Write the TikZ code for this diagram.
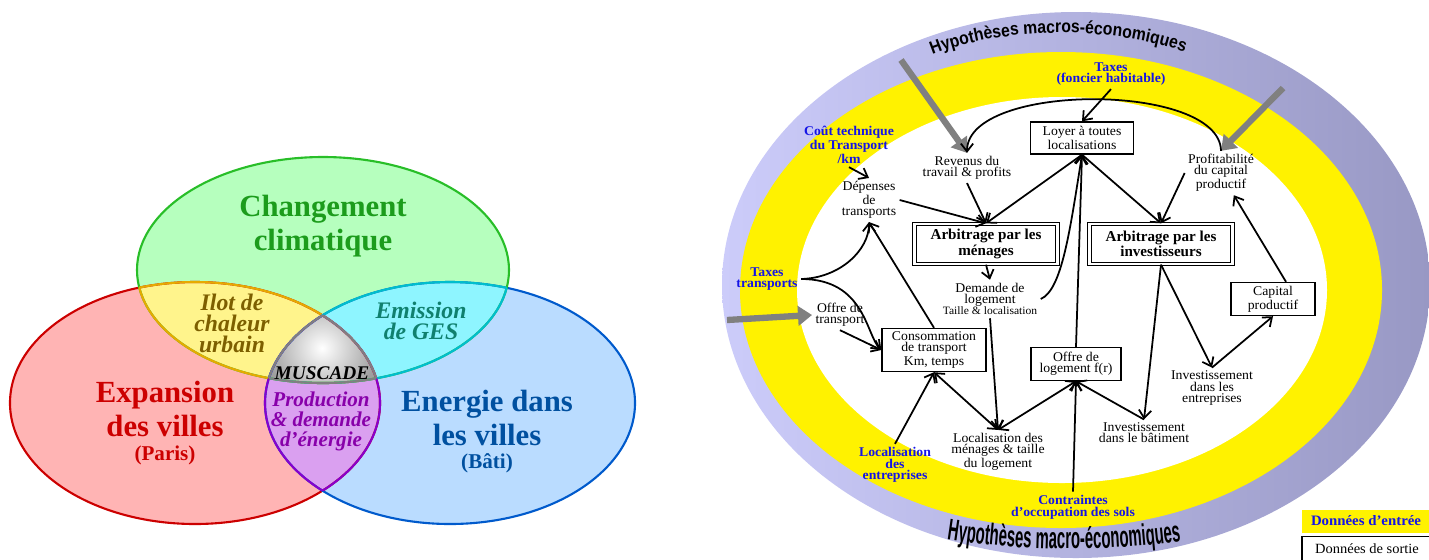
\documentclass[tikz,border=0pt]{standalone}
\usepackage{fontspec}
\setmainfont{Liberation Serif}
\newfontfamily\diagfont[FakeStretch=1.03]{Liberation Serif}
\newfontfamily\hypsmall[FakeStretch=0.88]{Liberation Sans}
\newfontfamily\hypbig[FakeStretch=0.5]{Liberation Sans}
\usetikzlibrary{arrows.meta,decorations.text}

\definecolor{redfill}{RGB}{255,180,180}
\definecolor{redline}{RGB}{204,0,0}
\definecolor{greenfill}{RGB}{182,255,190}
\definecolor{greenline}{RGB}{40,190,40}
\definecolor{greentext}{RGB}{28,156,28}
\definecolor{bluefill}{RGB}{186,220,255}
\definecolor{blueline}{RGB}{0,90,204}
\definecolor{bluetext}{RGB}{0,80,160}
\definecolor{yelfill}{RGB}{255,244,140}
\definecolor{yelline}{RGB}{230,170,0}
\definecolor{yeltext}{RGB}{125,95,0}
\definecolor{cyanfill}{RGB}{142,245,255}
\definecolor{cyanline}{RGB}{0,190,205}
\definecolor{cyantext}{RGB}{16,128,110}
\definecolor{purpfill}{RGB}{218,160,240}
\definecolor{purpline}{RGB}{136,0,204}
\definecolor{purptext}{RGB}{136,0,170}
\definecolor{ringleft}{RGB}{204,204,250}
\definecolor{ringright}{RGB}{152,152,196}
\definecolor{inblue}{RGB}{20,20,230}
\definecolor{grayarrow}{RGB}{128,128,128}

% the three sets of the left diagram
\newcommand{\ellred}{(195,403) ellipse [x radius=185, y radius=121]}
\newcommand{\ellblue}{(450,403) ellipse [x radius=185, y radius=121]}
\newcommand{\ellgreen}{(323,270) ellipse [x radius=186, y radius=113]}

\tikzset{
  vtitle/.style={align=center, inner sep=0pt, font=\bfseries\fontsize{17.5}{19}\selectfont},
  vsmall/.style={align=center, inner sep=0pt, font=\bfseries\fontsize{12}{12}\selectfont},
  vpair/.style={align=center, inner sep=0pt, font=\bfseries\itshape\fontsize{13.5}{12}\selectfont},
  txt/.style={align=center, inner sep=1.5pt, font=\diagfont\fontsize{7.6}{6.3}\selectfont},
  inp/.style={txt, text=inblue, font=\diagfont\bfseries\fontsize{7.6}{6.6}\selectfont},
  box/.style={txt, draw, fill=white, line width=0.8pt},
  arbbox/.style={box, double, line width=0.8pt, double distance=1.2pt,
    font=\bfseries\fontsize{8.6}{6.7}\selectfont},
  garr/.style={-{Triangle[length=8pt,width=11pt]}, line width=3.6pt, draw=grayarrow},
}

\begin{document}
\begin{tikzpicture}[x=0.02cm, y=-0.02cm, >={Straight Barb[length=4.5pt,width=7pt]}, line width=1pt]
\useasboundingbox (0,0) rectangle (1429,559);

% ---- left: Venn diagram
\fill[redfill] \ellred;
\fill[bluefill] \ellblue;
\fill[greenfill] \ellgreen;
\begin{scope} \clip \ellred; \fill[yelfill] \ellgreen; \fill[purpfill] \ellblue; \end{scope}
\begin{scope} \clip \ellgreen; \fill[cyanfill] \ellblue; \end{scope}
\begin{scope}
  \clip \ellred; \clip \ellblue; \clip \ellgreen;
  \fill[gray!75] (322,350) circle [radius=80];
  \shade[inner color=white, outer color=gray!75] (322,348) circle [radius=55];
\end{scope}

\begin{scope}[line width=1.2pt]
  \draw[redline] \ellred;
  \draw[blueline] \ellblue;
  \draw[greenline] \ellgreen;
  \begin{scope} \clip \ellgreen; \draw[yelline] \ellred; \end{scope}
  \begin{scope} \clip \ellred; \draw[yelline] \ellgreen; \end{scope}
  \begin{scope} \clip \ellblue; \draw[cyanline] \ellgreen; \end{scope}
  \begin{scope} \clip \ellgreen; \draw[cyanline] \ellblue; \end{scope}
  \begin{scope} \clip \ellblue; \draw[purpline] \ellred; \end{scope}
  \begin{scope} \clip \ellred; \draw[purpline] \ellblue; \end{scope}
  \begin{scope} \clip \ellgreen; \clip \ellblue; \draw[gray] \ellred; \end{scope}
  \begin{scope} \clip \ellgreen; \clip \ellred; \draw[gray] \ellblue; \end{scope}
  \begin{scope} \clip \ellred; \clip \ellblue; \draw[gray] \ellgreen; \end{scope}
\end{scope}

\node[vtitle, text=greentext] (clim) at (323,226) {Changement\\climatique};
\node[vpair, text=yeltext] (ilot) at (232,323) {Ilot de\\chaleur\\urbain};
\node[vpair, text=cyantext] (ges) at (421,321) {Emission\\de GES};
\node[vpair, text=purptext, font=\bfseries\itshape\fontsize{12}{11.4}\selectfont] (prod) at (321,421) {Production\\\& demande\\d'énergie};
\node[inner sep=0pt, font=\bfseries\itshape\fontsize{11}{11}\selectfont] (musc) at (322,373) {MUSCADE};
\node[vtitle, text=redline] (expa) at (165,409) {Expansion\\des villes};
\node[vsmall, text=redline] (paris) at (165,455) {(Paris)};
\node[vtitle, text=bluetext] (ener) at (487,418) {Energie dans\\les villes};
\node[vsmall, text=bluetext] (bati) at (487,463) {(Bâti)};

% ---- right: rings
\shade[left color=ringleft, right color=ringright] (1076,285) ellipse [x radius=354, y radius=273];
\fill[yellow] (1061,290) ellipse [x radius=321, y radius=238];
\fill[white] (1062,290) ellipse [x radius=265, y radius=193];

\path[decorate, decoration={text along path, text align=center,
  text={|\hypsmall\bfseries\fontsize{10.2}{10}\selectfont|Hypothèses macros-économiques}}]
  (925,58) .. controls (1000,25) and (1115,25) .. (1192,55);
\path[decorate, decoration={text along path, text align=center,
  text={|\hypbig\bfseries\fontsize{17}{17}\selectfont|Hypothèses macro-économiques}}]
  (936,538) .. controls (1020,552) and (1110,552) .. (1192,540);

% ---- right: nodes
\node[inp] (taxf) at (1111,74) {Taxes\\(foncier habitable)};
\node[box, minimum width=2.06cm, minimum height=0.64cm] (loyer) at (1082,138) {Loyer à toutes\\localisations};
\node[inp] (cout) at (849,145) {Coût technique\\du Transport\\/km};
\node[txt] (rev) at (967,168) {Revenus du\\travail \& profits};
\node[txt] (prof) at (1221,173) {Profitabilité\\du capital\\productif};
\node[txt] (dep) at (869,200) {Dépenses\\de\\transports};
\node[arbbox, minimum width=2.86cm, minimum height=0.8cm] (arbm) at (986,244) {Arbitrage par les\\ménages};
\node[arbbox, minimum width=2.86cm, minimum height=0.8cm] (arbi) at (1161,244) {Arbitrage par les\\investisseurs};
\node[inp] (taxt) at (767,279) {Taxes\\transports};
\node[txt] (dem) at (990,299) {Demande de\\logement\\{\fontsize{6.4}{6.3}\selectfont Taille \& localisation}};
\node[txt] (offt) at (840,315) {Offre de\\transport};
\node[box, minimum width=2.08cm, minimum height=0.86cm] (conso) at (934,350) {Consommation\\de transport\\Km, temps};
\node[box, minimum width=1.68cm, minimum height=0.66cm] (capital) at (1273,299) {Capital\\productif};
\node[box, minimum width=1.8cm, minimum height=0.66cm] (offl) at (1076,364) {Offre de\\logement f(r)};
\node[txt] (inve) at (1212,388) {Investissement\\dans les\\entreprises};
\node[txt] (invb) at (1144,433) {Investissement\\dans le bâtiment};
\node[txt] (locm) at (998,452) {Localisation des\\ménages \& taille\\du logement};
\node[inp] (loce) at (895,465) {Localisation\\des\\entreprises};
\node[inp] (contr) at (1073,507) {Contraintes\\d’occupation des sols};

% legend
\node[txt, fill=yellow, text=inblue, font=\diagfont\bfseries\fontsize{8.2}{8}\selectfont,
  minimum width=2.56cm, minimum height=0.46cm] (legin) at (1366,521) {Données d’entrée};
\node[box, font=\diagfont\fontsize{8}{8}\selectfont, minimum width=2.6cm, minimum height=0.5cm] (legout) at (1367,549) {Données de sortie};

% ---- right: connectors
\coordinate (g1) at (901,60);
\coordinate (g2) at (1283,88);
\coordinate (g3) at (727,320);
\draw[garr] (g1) -- (rev.north);
\draw[garr] (g2) -- (prof.north);
\draw[garr] (g3) -- (offt.west);

\draw[->] (taxf.south) -- (loyer.north);
\draw[->] (prof.north) .. controls (1220,82) and (967,82) .. (rev.north);
\draw[->] (cout.south) -- (dep.north);
\draw[->] (rev.south) -- (arbm.north);
\draw[->] (dep.east) -- (arbm.north);
\draw[->] (loyer.south) -- (arbm.north);
\draw[->] (loyer.south) -- (arbi.north);
\draw[->] (prof.west) -- (arbi.north);
\draw[->] (arbm.south) -- (dem.north);
\draw[->] (dem.south) -- (locm.north);
\draw[<->] (offl.south) -- (locm.north);
\draw[<->] (conso.south) -- (locm.north);
\draw[->] (loce.north) -- (conso.south);
\draw[->] (contr.north) -- (offl.south);
\draw[->] (offl.north) -- (loyer.south);
\draw[->] (dem.east) .. controls (1062,290) and (1070,230) .. (loyer.south);
\draw[->] (arbi.south) -- (invb.north);
\draw[->] (invb.north) -- (offl.south);
\draw[->] (arbi.south) -- (inve.north);
\draw[->] (inve.north) -- (capital.south);
\draw[->] ([xshift=0.26cm]capital.north) -- (prof.-60);
\draw[->] (conso.north) -- (dep.south);
\draw[->] (taxt.east) .. controls (840,278) and (869,250) .. (dep.south);
\draw[->] (taxt.east) .. controls (865,279) and (866,335) .. (conso.west);
\draw[->] (offt.south) -- (conso.west);
\end{tikzpicture}
\end{document}
